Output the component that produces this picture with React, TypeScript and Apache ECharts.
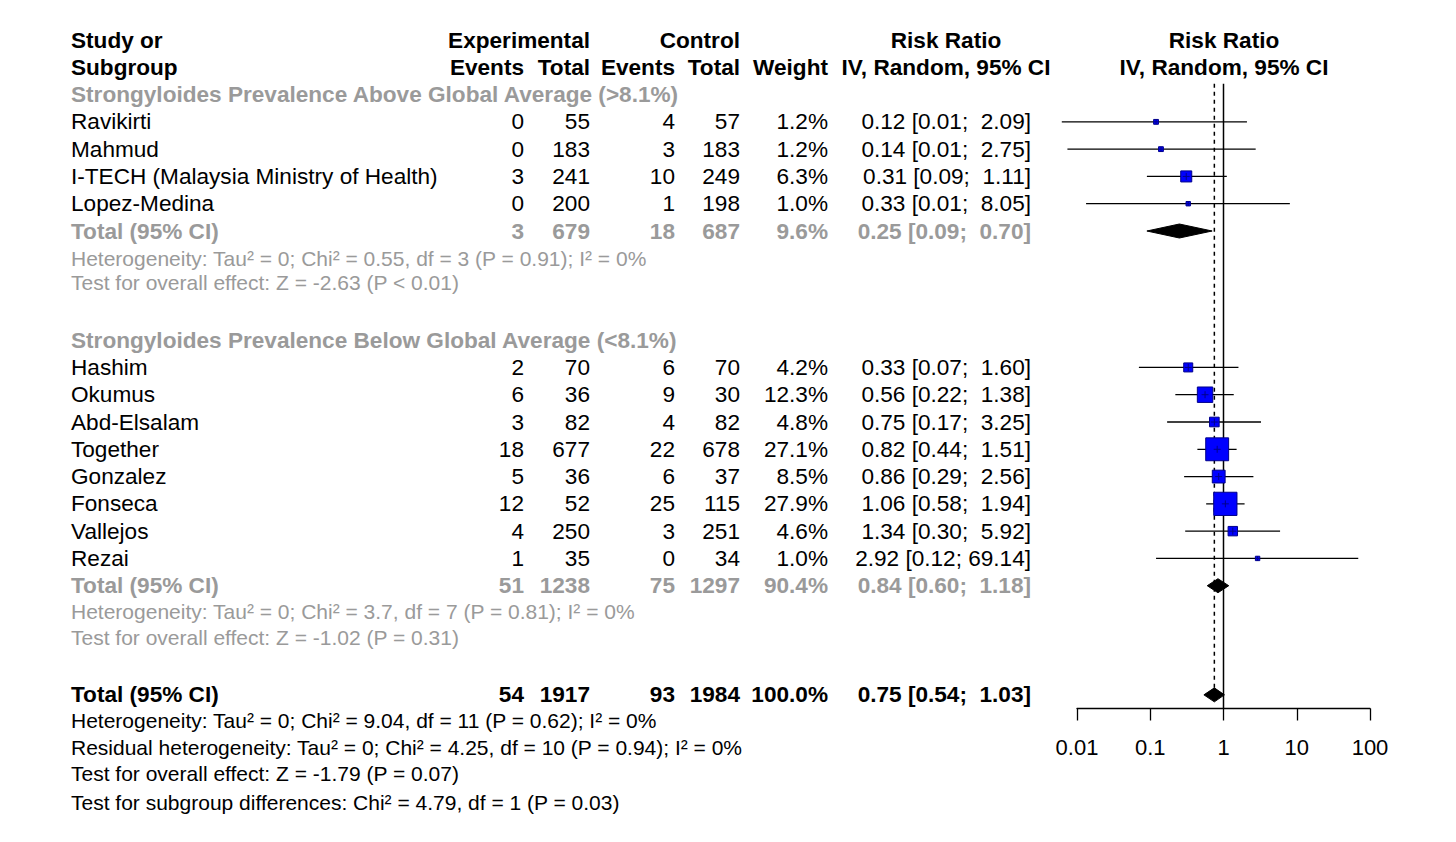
import React, { useEffect, useRef } from "react";
import * as echarts from "echarts";

// ---------- data ----------
const studyNames = [
  "Ravikirti",
  "Mahmud",
  "I-TECH (Malaysia Ministry of Health)",
  "Lopez-Medina",
  "Hashim",
  "Okumus",
  "Abd-Elsalam",
  "Together",
  "Gonzalez",
  "Fonseca",
  "Vallejos",
  "Rezai",
];
const studyRows = [3, 4, 5, 6, 12, 13, 14, 15, 16, 17, 18, 19];
const expEvents = [0, 0, 3, 0, 2, 6, 3, 18, 5, 12, 4, 1];
const expTotal = [55, 183, 241, 200, 70, 36, 82, 677, 36, 52, 250, 35];
const ctrlEvents = [4, 3, 10, 1, 6, 9, 4, 22, 6, 25, 3, 0];
const ctrlTotal = [57, 183, 249, 198, 70, 30, 82, 678, 37, 115, 251, 34];
const weights = [1.2, 1.2, 6.3, 1.0, 4.2, 12.3, 4.8, 27.1, 8.5, 27.9, 4.6, 1.0];
const riskRatio = [0.12, 0.14, 0.31, 0.33, 0.33, 0.56, 0.75, 0.82, 0.86, 1.06, 1.34, 2.92];
const ciLower = [0.0062, 0.0074, 0.09, 0.0133, 0.07, 0.22, 0.17, 0.44, 0.29, 0.58, 0.3, 0.12];
const ciUpper = [2.09, 2.75, 1.11, 8.05, 1.6, 1.38, 3.25, 1.51, 2.56, 1.94, 5.92, 69.14];

const groupTitles = [
  "Strongyloides Prevalence Above Global Average (>8.1%)",
  "Strongyloides Prevalence Below Global Average (<8.1%)",
];
const groupTitleRows = [2, 11];

const summaryLabels = ["Total (95% CI)", "Total (95% CI)", "Total (95% CI)"];
const summaryRows = [7, 20, 24];
const summaryIsSubgroup = [true, true, false];
const summaryExpEvents = [3, 51, 54];
const summaryExpTotal = [679, 1238, 1917];
const summaryCtrlEvents = [18, 75, 93];
const summaryCtrlTotal = [687, 1297, 1984];
const summaryWeight = [9.6, 90.4, 100.0];
const summaryRR = [0.25, 0.84, 0.75];
const summaryLower = [0.09, 0.6, 0.54];
const summaryUpper = [0.7, 1.18, 1.03];

const statTexts = [
  "Heterogeneity: Tau² = 0; Chi² = 0.55, df = 3 (P = 0.91); I² = 0%",
  "Test for overall effect: Z = -2.63 (P < 0.01)",
  "Heterogeneity: Tau² = 0; Chi² = 3.7, df = 7 (P = 0.81); I² = 0%",
  "Test for overall effect: Z = -1.02 (P = 0.31)",
  "Heterogeneity: Tau² = 0; Chi² = 9.04, df = 11 (P = 0.62); I² = 0%",
  "Residual heterogeneity: Tau² = 0; Chi² = 4.25, df = 10 (P = 0.94); I² = 0%",
  "Test for overall effect: Z = -1.79 (P = 0.07)",
  "Test for subgroup differences: Chi² = 4.79, df = 1 (P = 0.03)",
];
const statRows = [7.99, 8.9, 20.95, 21.88, 24.95, 25.93, 26.9, 27.95];
const statIsSubgroup = [true, true, true, true, false, false, false, false];

const headerLine1 = ["Study or", "Experimental", "Control", "Risk Ratio", "Risk Ratio"];
const headerLine2 = ["Subgroup", "Events", "Total", "Events", "Total", "Weight", "IV, Random, 95% CI", "IV, Random, 95% CI"];

const axisTickLabels = ["0.01", "0.1", "1", "10", "100"];
const nullEffect = 1;

// ---------- layout / style ----------
const FONT = "'Liberation Sans', Arial, Helvetica, sans-serif";
const GRAY = "#9a9a9a";
const BLACK = "#000000";
const FS = 22.6;
const FS_STAT = 21;
const FS_AXIS = 22;
const COL = {
  name: 71,
  expEv: 524,
  expTot: 590,
  ctlEv: 675,
  ctlTot: 740,
  weight: 828,
  ci: 1031,
  ciHead: 946,
  plotHead: 1224,
};

type Align = "left" | "right" | "center";
type TextItem = { row: number; x: number; text: string; align: Align; bold: boolean; color: string; size: number };

function fmtCI(rr: number, lo: number, up: number): string {
  const pad = up < 10 ? "\u00A0" : "";
  return `${rr.toFixed(2)} [${lo.toFixed(2)}; ${pad}${up.toFixed(2)}]`;
}

function buildTextItems(): TextItem[] {
  const items: TextItem[] = [];
  const add = (row: number, x: number, text: string, align: Align, bold = false, color = BLACK, size = FS) =>
    items.push({ row, x, text, align, bold, color, size });

  // headers
  const h1X = [COL.name, COL.expTot, COL.ctlTot, COL.ciHead, COL.plotHead];
  const h1A: Align[] = ["left", "right", "right", "center", "center"];
  headerLine1.forEach((t, i) => add(0, h1X[i], t, h1A[i], true));
  const h2X = [COL.name, COL.expEv, COL.expTot, COL.ctlEv, COL.ctlTot, COL.weight, COL.ciHead, COL.plotHead];
  const h2A: Align[] = ["left", "right", "right", "right", "right", "right", "center", "center"];
  headerLine2.forEach((t, i) => add(1, h2X[i], t, h2A[i], true));

  groupTitles.forEach((t, i) => add(groupTitleRows[i], COL.name, t, "left", true, GRAY));

  studyNames.forEach((n, i) => {
    const r = studyRows[i];
    add(r, COL.name, n, "left");
    add(r, COL.expEv, String(expEvents[i]), "right");
    add(r, COL.expTot, String(expTotal[i]), "right");
    add(r, COL.ctlEv, String(ctrlEvents[i]), "right");
    add(r, COL.ctlTot, String(ctrlTotal[i]), "right");
    add(r, COL.weight, weights[i].toFixed(1) + "%", "right");
    add(r, COL.ci, fmtCI(riskRatio[i], ciLower[i], ciUpper[i]), "right");
  });

  summaryLabels.forEach((n, i) => {
    const r = summaryRows[i];
    const c = summaryIsSubgroup[i] ? GRAY : BLACK;
    add(r, COL.name, n, "left", true, c);
    add(r, COL.expEv, String(summaryExpEvents[i]), "right", true, c);
    add(r, COL.expTot, String(summaryExpTotal[i]), "right", true, c);
    add(r, COL.ctlEv, String(summaryCtrlEvents[i]), "right", true, c);
    add(r, COL.ctlTot, String(summaryCtrlTotal[i]), "right", true, c);
    add(r, COL.weight, summaryWeight[i].toFixed(1) + "%", "right", true, c);
    add(r, COL.ci, fmtCI(summaryRR[i], summaryLower[i], summaryUpper[i]), "right", true, c);
  });

  statTexts.forEach((t, i) => add(statRows[i], COL.name, t, "left", false, statIsSubgroup[i] ? GRAY : BLACK, FS_STAT));
  return items;
}

export default function App() {
  const ref = useRef<HTMLDivElement>(null);

  useEffect(() => {
    document.body.style.margin = "0";
    if (!ref.current) return;
    const chart = echarts.init(ref.current, null, { renderer: "svg" });
    const textItems = buildTextItems();

    const option: any = {
      animation: false,
      backgroundColor: "#ffffff",
      grid: { left: 1077, width: 293, top: 40, height: 668.5, containLabel: false },
      xAxis: {
        type: "log",
        logBase: 10,
        min: 0.01,
        max: 100,
        position: "bottom",
        splitLine: { show: false },
        axisLine: { show: true, onZero: false, lineStyle: { color: BLACK, width: 1.3 } },
        axisTick: { show: true, length: 12, inside: false, lineStyle: { color: BLACK, width: 1.3 } },
        axisLabel: {
          color: BLACK,
          fontSize: FS_AXIS,
          fontFamily: FONT,
          margin: 28,
          formatter: (v: number) => axisTickLabels[Math.round(Math.log10(v)) + 2] ?? "",
        },
      },
      yAxis: { type: "value", inverse: true, min: 0, max: 24.5, show: false },
      series: [
        {
          type: "line",
          data: [
            [nullEffect, 1.6],
            [nullEffect, 24.5],
          ],
          symbol: "none",
          lineStyle: { color: BLACK, width: 1.5 },
          z: 1,
        },
        {
          type: "line",
          data: [
            [summaryRR[2], 1.6],
            [summaryRR[2], 23.74],
          ],
          symbol: "none",
          lineStyle: { color: BLACK, width: 1.5, type: [4, 4] },
          z: 1,
        },
        {
          type: "custom",
          z: 3,
          data: studyNames.map((_, i) => [riskRatio[i], studyRows[i], ciLower[i], ciUpper[i], weights[i]]),
          renderItem: (_p: any, api: any) => {
            const row = api.value(1);
            const p = api.coord([api.value(0), row]);
            const l = api.coord([api.value(2), row]);
            const u = api.coord([api.value(3), row]);
            const s = 4.4 * Math.sqrt(api.value(4));
            const c = Math.min(3.5, s / 2);
            return {
              type: "group",
              children: [
                { type: "line", shape: { x1: l[0], y1: p[1], x2: u[0], y2: p[1] }, style: { stroke: BLACK, lineWidth: 1.3 } },
                {
                  type: "rect",
                  shape: { x: p[0] - s / 2, y: p[1] - s / 2, width: s, height: s },
                  style: { fill: "#0000ff", stroke: "#00008b", lineWidth: 1 },
                },
                { type: "line", shape: { x1: p[0] - c, y1: p[1], x2: p[0] + c, y2: p[1] }, style: { stroke: "#00008b", lineWidth: 1 } },
                { type: "line", shape: { x1: p[0], y1: p[1] - c, x2: p[0], y2: p[1] + c }, style: { stroke: "#00008b", lineWidth: 1 } },
              ],
            };
          },
        },
        {
          type: "custom",
          z: 4,
          data: summaryRR.map((rr, i) => [rr, summaryRows[i], summaryLower[i], summaryUpper[i]]),
          renderItem: (_p: any, api: any) => {
            const row = api.value(1);
            const p = api.coord([api.value(0), row]);
            const l = api.coord([api.value(2), row]);
            const u = api.coord([api.value(3), row]);
            return {
              type: "polygon",
              shape: { points: [[l[0], p[1]], [p[0], p[1] - 7], [u[0], p[1]], [p[0], p[1] + 7]] },
              style: { fill: BLACK, stroke: BLACK, lineWidth: 1 },
            };
          },
        },
        {
          type: "custom",
          z: 5,
          clip: false,
          data: textItems.map((it) => [1, it.row]),
          renderItem: (params: any, api: any) => {
            const it = textItems[params.dataIndex];
            const y = api.coord([1, api.value(1)])[1];
            return {
              type: "text",
              x: it.x,
              y,
              style: {
                text: it.text,
                fill: it.color,
                fontSize: it.size,
                fontFamily: FONT,
                fontWeight: it.bold ? "bold" : "normal",
                align: it.align,
                verticalAlign: "middle",
              },
            };
          },
        },
      ],
    };
    chart.setOption(option);
    return () => chart.dispose();
  }, []);

  return <div ref={ref} style={{ width: 1456, height: 842 }} />;
}
